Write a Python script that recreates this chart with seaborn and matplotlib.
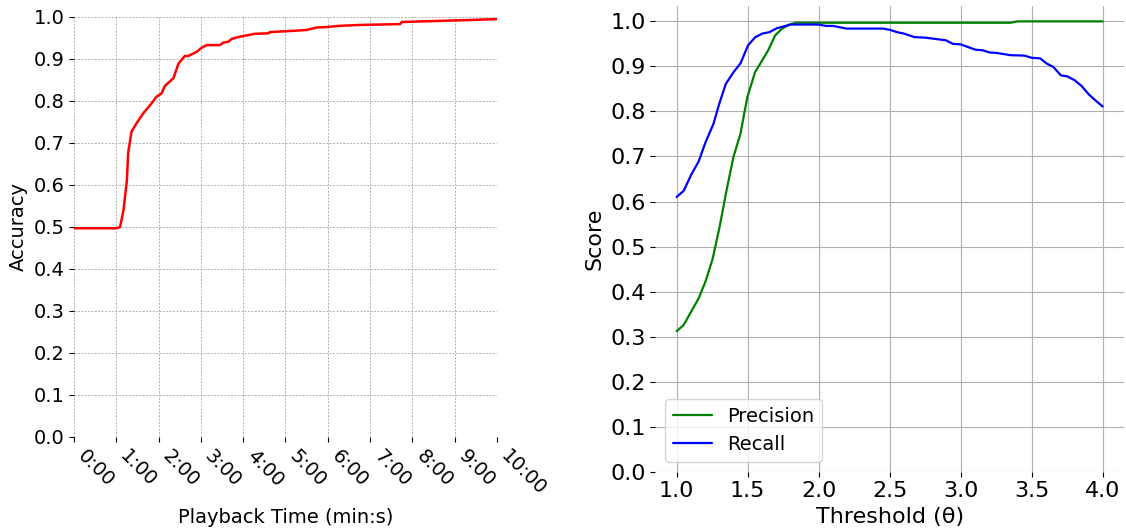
import matplotlib
matplotlib.use("Agg")
import matplotlib.pyplot as plt
import seaborn as sns
import pandas as pd

# ---- Left panel: accuracy vs playback time (minutes) ----
time_min = [0.0, 1.01, 1.09, 1.17, 1.25, 1.28, 1.36, 1.48, 1.64, 1.80, 1.95, 2.07, 2.15,
            2.35, 2.47, 2.62, 2.70, 2.90, 3.02, 3.14, 3.45, 3.53, 3.65, 3.73, 3.92, 4.28,
            4.59, 4.63, 5.18, 5.50, 5.74, 5.97, 6.29, 6.76, 7.71, 7.75, 8.73, 9.44, 10.0]
accuracy = [0.497, 0.497, 0.50, 0.54, 0.61, 0.676, 0.727, 0.747, 0.771, 0.790, 0.810, 0.818,
            0.836, 0.854, 0.889, 0.907, 0.907, 0.917, 0.927, 0.933, 0.933, 0.939, 0.941,
            0.948, 0.953, 0.960, 0.961, 0.964, 0.967, 0.969, 0.975, 0.976, 0.979, 0.981,
            0.983, 0.988, 0.991, 0.993, 0.995]
time_ticks = [0, 1, 2, 3, 4, 5, 6, 7, 8, 9, 10]
time_labels = ["0:00", "1:00", "2:00", "3:00", "4:00", "5:00", "6:00", "7:00", "8:00", "9:00", "10:00"]

# ---- Right panel: precision / recall vs threshold ----
rec_theta = [1.0, 1.05, 1.105, 1.155, 1.204, 1.26, 1.30, 1.346, 1.40, 1.45, 1.503, 1.554,
             1.604, 1.653, 1.707, 1.756, 1.805, 2.0, 2.05, 2.10, 2.197, 2.455, 2.504, 2.553,
             2.60, 2.676, 2.749, 2.896, 2.946, 3.0, 3.105, 3.154, 3.203, 3.252, 3.35, 3.449,
             3.502, 3.559, 3.608, 3.652, 3.706, 3.75, 3.804, 3.853, 3.902, 3.951, 4.0]
recall = [0.610, 0.624, 0.661, 0.689, 0.732, 0.773, 0.817, 0.861, 0.887, 0.907, 0.947, 0.965,
          0.973, 0.976, 0.985, 0.989, 0.993, 0.993, 0.990, 0.990, 0.984, 0.984, 0.981, 0.976,
          0.973, 0.965, 0.964, 0.958, 0.950, 0.949, 0.937, 0.936, 0.931, 0.930, 0.925, 0.924,
          0.919, 0.918, 0.906, 0.899, 0.880, 0.878, 0.869, 0.856, 0.838, 0.824, 0.811]
prec_theta = [1.0, 1.05, 1.105, 1.155, 1.204, 1.253, 1.302, 1.351, 1.40, 1.449, 1.498, 1.552,
              1.596, 1.645, 1.694, 1.743, 1.792, 1.842, 3.35, 3.40, 4.0]
precision = [0.312, 0.326, 0.357, 0.385, 0.423, 0.472, 0.543, 0.624, 0.699, 0.750, 0.832,
             0.887, 0.910, 0.936, 0.969, 0.984, 0.993, 0.997, 0.997, 1.0, 1.0]

df_acc = pd.DataFrame({"t": time_min, "acc": accuracy})
df_pr = pd.concat([
    pd.DataFrame({"theta": prec_theta, "score": precision, "metric": "Precision"}),
    pd.DataFrame({"theta": rec_theta, "score": recall, "metric": "Recall"}),
], ignore_index=True)

sns.set_style("ticks")
plt.rcParams["font.family"] = ["DejaVu Sans"]
for k in ["text.color", "axes.labelcolor", "xtick.color", "ytick.color"]:
    plt.rcParams[k] = "black"

fig = plt.figure(figsize=(11.26, 5.32), dpi=100)
ax1 = fig.add_axes([0.0657, 0.1786, 0.3757, 0.7895])
ax2 = fig.add_axes([0.582, 0.1133, 0.4162, 0.8757])

# Left
sns.lineplot(data=df_acc, x="t", y="acc", ax=ax1, color="red", linewidth=1.8)
ax1.set_xlim(0, 10)
ax1.set_ylim(0, 1.0)
ax1.set_xticks(time_ticks)
ax1.set_xticklabels(time_labels, rotation=-45, ha="left", fontsize=14)
ax1.set_yticks([i / 10 for i in range(11)])
ax1.set_yticklabels([f"{i/10:.1f}" for i in range(11)], fontsize=14)
ax1.grid(True, linestyle=(0, (2, 1.5)), color="#b0b0b0", linewidth=0.7)
ax1.set_xlabel("Playback Time (min:s)", fontsize=14, labelpad=6)
ax1.set_ylabel("Accuracy", fontsize=14)
for s in ax1.spines.values():
    s.set_visible(False)
ax1.tick_params(length=3.5, width=0.8, color="black")

# Right
sns.lineplot(data=df_pr, x="theta", y="score", hue="metric",
             palette={"Precision": "green", "Recall": "blue"}, ax=ax2, linewidth=1.6)
ax2.set_xlim(0.85, 4.15)
ax2.set_ylim(0, 1.0345)
ax2.set_xticks([1.0, 1.5, 2.0, 2.5, 3.0, 3.5, 4.0])
ax2.set_xticklabels(["1.0", "1.5", "2.0", "2.5", "3.0", "3.5", "4.0"], fontsize=16)
ax2.set_yticks([i / 10 for i in range(11)])
ax2.set_yticklabels([f"{i/10:.1f}" for i in range(11)], fontsize=16)
ax2.grid(True, color="#b0b0b0", linewidth=0.8)
ax2.set_xlabel("Threshold (θ)", fontsize=16, labelpad=4)
ax2.set_ylabel("Score", fontsize=16)
for s in ax2.spines.values():
    s.set_visible(False)
ax2.tick_params(length=3.5, width=0.8, color="black")
leg = ax2.legend(loc="lower left", fontsize=14, title=None, framealpha=0.8)

fig.savefig("out.png", dpi=100)
